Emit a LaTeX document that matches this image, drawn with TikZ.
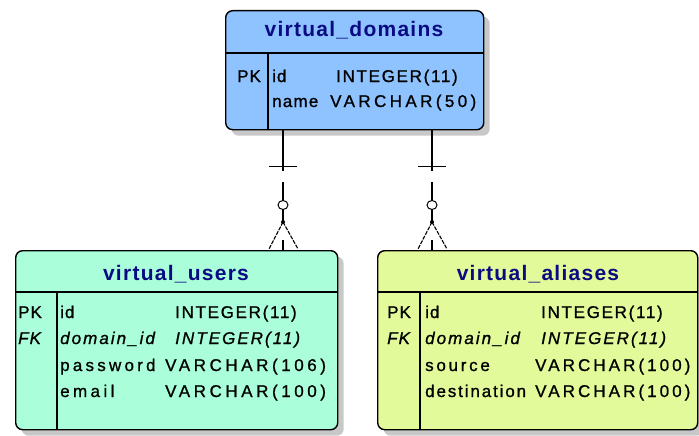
\documentclass[tikz,border=0pt]{standalone}
\usepackage{fontspec}
\setmainfont{Liberation Sans}
\usetikzlibrary{shadows,calc}
\definecolor{domfill}{RGB}{142,195,255}
\definecolor{usrfill}{RGB}{170,255,218}
\definecolor{alifill}{RGB}{226,250,154}
\definecolor{ttl}{RGB}{10,10,130}
\definecolor{shd}{RGB}{200,200,200}
\tikzset{
  ent/.style={draw=black, line width=1.4pt, rounded corners=7pt, anchor=north west,
    inner sep=0pt, drop shadow={shadow xshift=6pt, shadow yshift=-6pt, fill=shd, opacity=1}},
  ttlt/.style={anchor=base, inner sep=0pt, text=ttl,
    font=\fontsize{21}{24}\selectfont\bfseries\addfontfeature{LetterSpace=6}},
  cell/.style={anchor=base west, inner sep=0pt,
    font=\fontsize{17}{20}\selectfont\addfontfeature{LetterSpace=#1,FakeBold=1}},
  cell/.default=8,
  icell/.style={anchor=base west, inner sep=0pt,
    font=\fontsize{17}{20}\selectfont\itshape\addfontfeature{LetterSpace=#1,FakeBold=1}},
  icell/.default=8,
  seprule/.style={line width=1.1pt},
  rel/.style={line width=1.2pt},
  foot/.style={line width=1.1pt, dash pattern=on 4pt off 1.2pt},
}
\begin{document}
\begin{tikzpicture}[x=1pt,y=-1pt]
\useasboundingbox (0,0) rectangle (699,436);
\fill[white] (0,0) rectangle (699,436);

% entities
\node[ent, fill=domfill, minimum width=258pt, minimum height=119pt] (dom) at (225,10) {};
\node[ent, fill=usrfill, minimum width=322pt, minimum height=179pt] (usr) at (15,250) {};
\node[ent, fill=alifill, minimum width=320pt, minimum height=179pt] (ali) at (377,250) {};

% header separators and dividers
\draw[seprule] (dom.west |- 0,53) -- (dom.east |- 0,53);
\draw[seprule] (268,53) -- (268,0 |- dom.south);
\draw[seprule] (usr.west |- 0,292) -- (usr.east |- 0,292);
\draw[seprule] (57,292) -- (57,0 |- usr.south);
\draw[seprule] (ali.west |- 0,292) -- (ali.east |- 0,292);
\draw[seprule] (420,292) -- (420,0 |- ali.south);

% virtual_domains texts
\node[ttlt] (domt) at (354,37) {virtual\_domains};
\node[cell=6] (dpk) at (237,82) {PK};
\node[cell=6] (did) at (272,82) {id};
\node[cell=10] (dint) at (336,82) {INTEGER(11)};
\node[cell=7] (dname) at (272,107) {name};
\node[cell=20] (dvc) at (330,107) {VARCHAR(50)};

% virtual_users texts
\node[ttlt] (usrt) at (176,280) {virtual\_users};
\node[cell=6] (upk) at (18,318) {PK};
\node[cell=6] (uid) at (60,318) {id};
\node[cell=10] (uint) at (175,318) {INTEGER(11)};
\node[icell=6] (ufk) at (18,344) {FK};
\node[icell=12] (udom) at (60,344) {domain\_id};
\node[icell=12] (uint2) at (175,344) {INTEGER(11)};
\node[cell=19] (upw) at (60,371) {password};
\node[cell=21] (uvc1) at (165,371) {VARCHAR(106)};
\node[cell=20] (uem) at (60,397) {email};
\node[cell=21] (uvc2) at (165,397) {VARCHAR(100)};

% virtual_aliases texts
\node[ttlt] (alit) at (538,280) {virtual\_aliases};
\node[cell=6] (apk) at (387,318) {PK};
\node[cell=6] (aid) at (425,318) {id};
\node[cell=10] (aint) at (541,318) {INTEGER(11)};
\node[icell=6] (afk) at (387,344) {FK};
\node[icell=12] (adom) at (425,344) {domain\_id};
\node[icell=12] (aint2) at (541,344) {INTEGER(11)};
\node[cell=16] (asrc) at (425,371) {source};
\node[cell=18] (avc1) at (535,371) {VARCHAR(100)};
\node[cell=11] (adst) at (425,397) {destination};
\node[cell=18] (avc2) at (535,397) {VARCHAR(100)};

% relationships (one-to-many, crow's foot)
\foreach \X/\C in {283/usr, 432/ali}{
  \coordinate (T) at (\X,0 |- dom.south);
  \coordinate (B) at (\X,0 |- \C.north);
  \draw[rel] (T) -- ($(T)+(0,41)$);
  \draw[rel] ($(T)+(-14,36)$) -- ($(T)+(14,36)$);
  \draw[rel] ($(B)+(0,-68)$) -- ($(B)+(0,-50)$);
  \draw[line width=1pt] ($(B)+(0,-45)$) ellipse [x radius=5pt, y radius=4.5pt];
  \draw[rel] ($(B)+(0,-40)$) -- ($(B)+(0,-28)$);
  \fill ($(B)+(0,-28)$) circle [radius=2pt];
  \draw[foot] ($(B)+(0,-28)$) -- ($(B)+(-14,-1)$);
  \draw[foot] ($(B)+(0,-28)$) -- ($(B)+(15,-1)$);
  \draw[rel] ($(B)+(0,-10)$) -- (B);
}
\end{tikzpicture}
\end{document}
